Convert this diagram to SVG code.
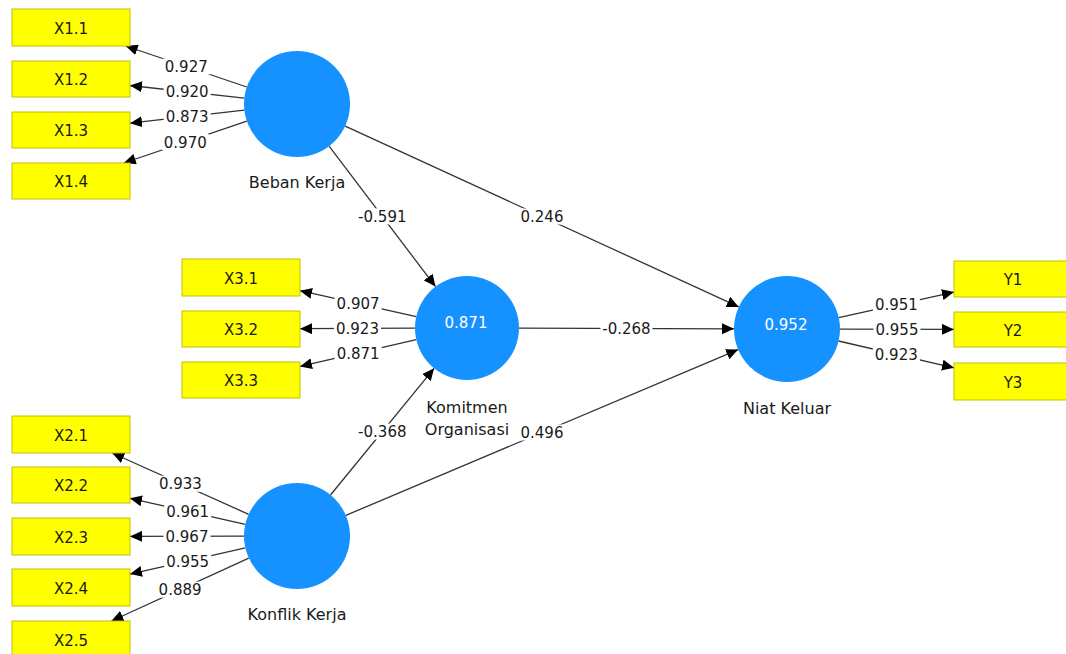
<svg xmlns="http://www.w3.org/2000/svg" width="1066" height="654" viewBox="0 0 1066 654">
<style>
.ind rect{fill:#ffff00;stroke:#c2c200;stroke-width:1}
.ind text{font-family:"DejaVu Sans",sans-serif;font-size:15px;fill:#1a1a1a;text-anchor:middle}
.lv circle{fill:#1592ff}
.lv text{font-family:"DejaVu Sans",sans-serif;font-size:16px;fill:#1a1a1a;text-anchor:middle}
.lv text.val{fill:#ffffff;font-size:15px}
.cn line{stroke:#333333;stroke-width:1.3;marker-end:url(#arr)}
.lb rect{fill:#ffffff}
.lb text{font-family:"DejaVu Sans",sans-serif;font-size:15px;fill:#1a1a1a;text-anchor:middle}
</style>
<defs>
<marker id="arr" markerWidth="12" markerHeight="11" refX="12" refY="5.5" orient="auto" markerUnits="userSpaceOnUse">
<path d="M0,0 L12,5.5 L0,11 z" fill="#000000"/>
</marker>
</defs>
<rect x="0" y="0" width="1066" height="654" fill="#ffffff"/>

<g id="connectors" class="cn">
<line x1="246.8" y1="87" x2="125.7" y2="46"/>
<line x1="244.3" y1="98.2" x2="130" y2="85.5"/>
<line x1="244.3" y1="110.1" x2="130" y2="123.2"/>
<line x1="246.8" y1="121.1" x2="123.8" y2="163"/>
<line x1="416.3" y1="316.7" x2="300" y2="290.7"/>
<line x1="415" y1="328.2" x2="300" y2="328.7"/>
<line x1="416.3" y1="339.7" x2="300" y2="366.4"/>
<line x1="248.6" y1="514.3" x2="112.2" y2="453"/>
<line x1="245.3" y1="524.3" x2="130" y2="498.3"/>
<line x1="244" y1="536.1" x2="130" y2="536.4"/>
<line x1="245.3" y1="547.8" x2="130" y2="574.1"/>
<line x1="248.8" y1="558.1" x2="111.4" y2="621"/>
<line x1="838.7" y1="317.6" x2="954" y2="292.1"/>
<line x1="840" y1="329.1" x2="954" y2="329.4"/>
<line x1="838.6" y1="341" x2="954" y2="367.8"/>
<line x1="329.1" y1="146.2" x2="435.5" y2="286.6"/>
<line x1="345.2" y1="126.1" x2="738.8" y2="306.9"/>
<line x1="519" y1="328.2" x2="734" y2="328.8"/>
<line x1="330.5" y1="495" x2="434.1" y2="368.3"/>
<line x1="345.8" y1="515.4" x2="738.2" y2="349.6"/>
</g>

<g id="path-labels" class="lb">
<rect x="162.8" y="58.5" width="47" height="16"/><text x="186.3" y="72">0.927</text>
<rect x="163.7" y="83.9" width="47" height="16"/><text x="187.2" y="97.4">0.920</text>
<rect x="163.7" y="108.6" width="47" height="16"/><text x="187.2" y="122.1">0.873</text>
<rect x="161.8" y="134" width="47" height="16"/><text x="185.3" y="147.5">0.970</text>
<rect x="334.6" y="295.7" width="47" height="16"/><text x="358.1" y="309.2">0.907</text>
<rect x="334" y="320.5" width="47" height="16"/><text x="357.5" y="334">0.923</text>
<rect x="334.7" y="345" width="47" height="16"/><text x="358.2" y="358.5">0.871</text>
<rect x="156.9" y="475.7" width="47" height="16"/><text x="180.4" y="489.2">0.933</text>
<rect x="164.2" y="503.3" width="47" height="16"/><text x="187.7" y="516.8">0.961</text>
<rect x="163.5" y="528.2" width="47" height="16"/><text x="187" y="541.7">0.967</text>
<rect x="164.2" y="553" width="47" height="16"/><text x="187.7" y="566.5">0.955</text>
<rect x="156.6" y="581.6" width="47" height="16"/><text x="180.1" y="595.1">0.889</text>
<rect x="872.9" y="296.9" width="47" height="16"/><text x="896.4" y="310.4">0.951</text>
<rect x="873.5" y="321.2" width="47" height="16"/><text x="897" y="334.7">0.955</text>
<rect x="872.8" y="346.4" width="47" height="16"/><text x="896.3" y="359.9">0.923</text>
<rect x="356.3" y="208.4" width="52" height="16"/><text x="382.3" y="221.9">-0.591</text>
<rect x="518.5" y="208.5" width="47" height="16"/><text x="542" y="222">0.246</text>
<rect x="600.5" y="320.5" width="52" height="16"/><text x="626.5" y="334">-0.268</text>
<rect x="356.3" y="423.6" width="52" height="16"/><text x="382.3" y="437.1">-0.368</text>
<rect x="518.5" y="424.5" width="47" height="16"/><text x="542" y="438">0.496</text>
</g>

<g id="X1.1" class="ind"><rect x="12" y="9" width="118" height="37"/><text x="71" y="33.5">X1.1</text></g>
<g id="X1.2" class="ind"><rect x="12" y="61" width="118" height="36"/><text x="71" y="85">X1.2</text></g>
<g id="X1.3" class="ind"><rect x="12" y="112" width="118" height="36"/><text x="71" y="136">X1.3</text></g>
<g id="X1.4" class="ind"><rect x="12" y="163" width="118" height="36"/><text x="71" y="187">X1.4</text></g>
<g id="X3.1" class="ind"><rect x="182" y="259" width="118" height="37"/><text x="241" y="283.5">X3.1</text></g>
<g id="X3.2" class="ind"><rect x="182" y="311" width="118" height="36"/><text x="241" y="335">X3.2</text></g>
<g id="X3.3" class="ind"><rect x="182" y="362" width="118" height="36"/><text x="241" y="386">X3.3</text></g>
<g id="X2.1" class="ind"><rect x="12" y="416" width="118" height="37"/><text x="71" y="440.5">X2.1</text></g>
<g id="X2.2" class="ind"><rect x="12" y="467" width="118" height="36"/><text x="71" y="491">X2.2</text></g>
<g id="X2.3" class="ind"><rect x="12" y="518" width="118" height="37"/><text x="71" y="542.5">X2.3</text></g>
<g id="X2.4" class="ind"><rect x="12" y="569" width="118" height="37"/><text x="71" y="593.5">X2.4</text></g>
<g id="X2.5" class="ind"><rect x="12" y="621" width="118" height="37"/><text x="71" y="645.5">X2.5</text></g>
<g id="Y1" class="ind"><rect x="954" y="261" width="118" height="36"/><text x="1013" y="285">Y1</text></g>
<g id="Y2" class="ind"><rect x="954" y="312" width="118" height="35"/><text x="1013" y="335.5">Y2</text></g>
<g id="Y3" class="ind"><rect x="954" y="363" width="118" height="37"/><text x="1013" y="387.5">Y3</text></g>

<g id="beban-kerja" class="lv"><circle cx="297" cy="104" r="53"/><text x="297" y="188">Beban Kerja</text></g>
<g id="komitmen-organisasi" class="lv"><circle cx="467" cy="328" r="52"/><text class="val" x="466" y="328">0.871</text><text x="467" y="413">Komitmen</text><text x="467" y="435">Organisasi</text></g>
<g id="konflik-kerja" class="lv"><circle cx="297" cy="536" r="53"/><text x="297" y="620">Konflik Kerja</text></g>
<g id="niat-keluar" class="lv"><circle cx="787" cy="329" r="53"/><text class="val" x="786" y="330">0.952</text><text x="787" y="414">Niat Keluar</text></g>
</svg>
